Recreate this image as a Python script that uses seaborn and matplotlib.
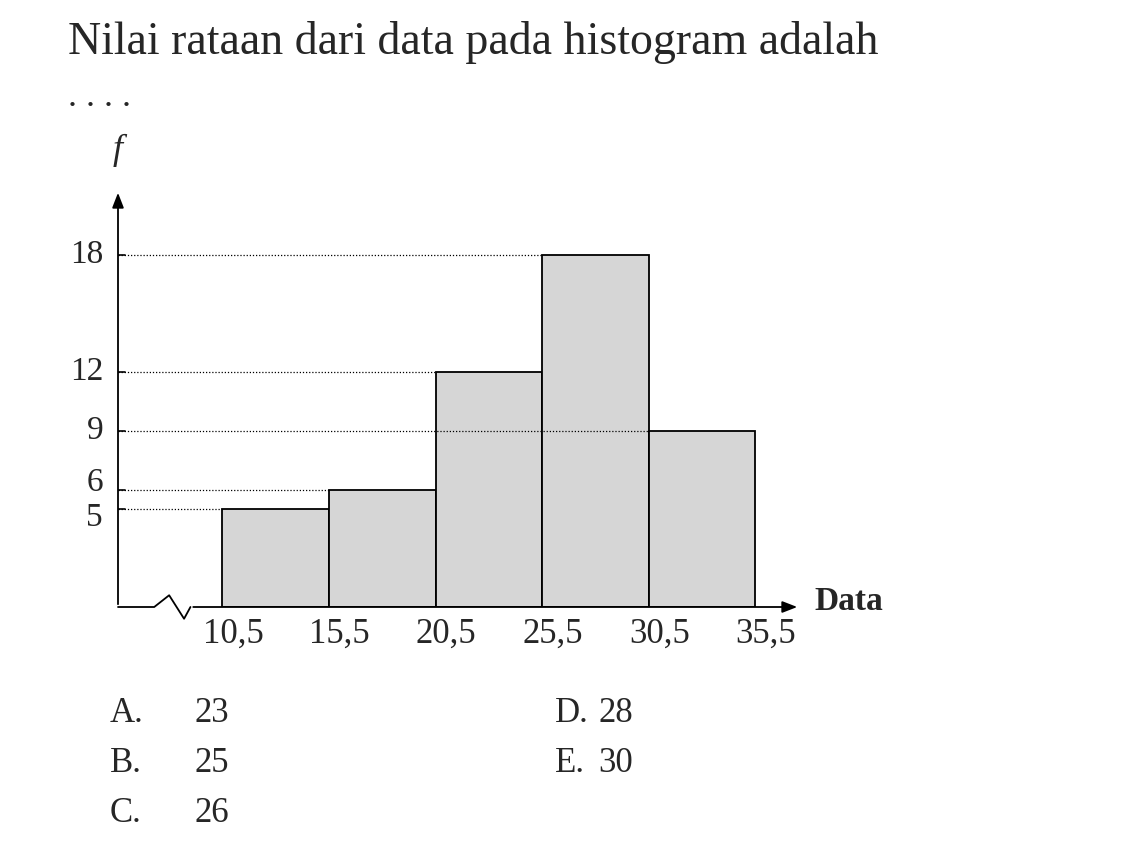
import matplotlib.pyplot as plt
import seaborn as sns

edges = [10.5, 15.5, 20.5, 25.5, 30.5, 35.5]
freq = [5, 6, 12, 18, 9]
ytick_vals = [5, 6, 9, 12, 18]
options_left = [("A.", "23"), ("B.", "25"), ("C.", "26")]
options_right = [("D.", "28"), ("E.", "30")]

sns.set_style("white")
plt.rcParams['font.family'] = ['Liberation Serif', 'DejaVu Serif']

fig = plt.figure(figsize=(11.34, 8.5), dpi=100)
ax = fig.add_axes([118/1134, (850-607)/850, (800-118)/1134, (607-190)/850])

x0, x1 = 5.6, 37.6
y1 = 21.3
mids = [(a + b) / 2 for a, b in zip(edges[:-1], edges[1:])]
sns.histplot(x=mids, weights=freq, bins=edges, ax=ax, color="#d6d6d6",
             edgecolor="black", linewidth=1.3, alpha=1, zorder=2)

# dotted guide lines from the axis to the bar tops
stop = {5: 10.5, 6: 15.5, 9: 30.5, 12: 20.5, 18: 25.5}
for v in ytick_vals:
    ax.plot([x0, stop[v]], [v, v], color="black", linestyle=(0, (1, 1.5)),
            linewidth=0.9, zorder=3)
    ax.plot([x0 - 0.35, x0 + 0.35], [v, v], color="black", linewidth=1.2)

ax.set_xlim(x0, x1)
ax.set_ylim(0, y1)
for s in ax.spines.values():
    s.set_visible(False)
ax.set_xticks([])
ax.set_yticks([])
ax.set_xlabel("")
ax.set_ylabel("")

arrow = dict(arrowstyle="-|>,head_width=0.35,head_length=0.9", color="black", lw=1.3)
ax.annotate("", xy=(x0, y1), xytext=(x0, 0), annotation_clip=False, arrowprops=arrow)
zx = [x0, 7.3, 8.0, 8.7, 9.0]
zy = [0, 0, 0.6, -0.6, 0]
ax.plot(zx, zy, color="black", lw=1.3, clip_on=False)
ax.annotate("", xy=(x1, 0), xytext=(9.0, 0), annotation_clip=False, arrowprops=arrow)

for e in edges:
    ax.text(e + 0.5, -0.55, f"{e:g}".replace(".", ","), ha="center", va="top", fontsize=25)
label_shift = {5: -0.45, 6: 0.35}
for v in ytick_vals:
    ax.text(x0 - 0.7, v + label_shift.get(v, 0), str(v), ha="right", va="center", fontsize=24)
ax.text(x0, y1 + 1.2, "f", ha="center", va="bottom", fontsize=26, style="italic")
ax.text(x1 + 0.7, 0.3, "Data", ha="left", va="center", fontsize=24, fontweight="bold")

fig.text(68/1134, 1 - 42/850, "Nilai rataan dari data pada histogram adalah",
         fontsize=33, va="center")
fig.text(68/1134, 1 - 98/850, ". . . .", fontsize=26, va="center")
for i, (l, v) in enumerate(options_left):
    y = 1 - (714 + 50 * i) / 850
    fig.text(110/1134, y, l, fontsize=25, va="center")
    fig.text(195/1134, y, v, fontsize=25, va="center")
for i, (l, v) in enumerate(options_right):
    y = 1 - (714 + 50 * i) / 850
    fig.text(555/1134, y, l, fontsize=25, va="center")
    fig.text(598/1134, y, v, fontsize=25, va="center")

fig.savefig("out.png", dpi=100)
